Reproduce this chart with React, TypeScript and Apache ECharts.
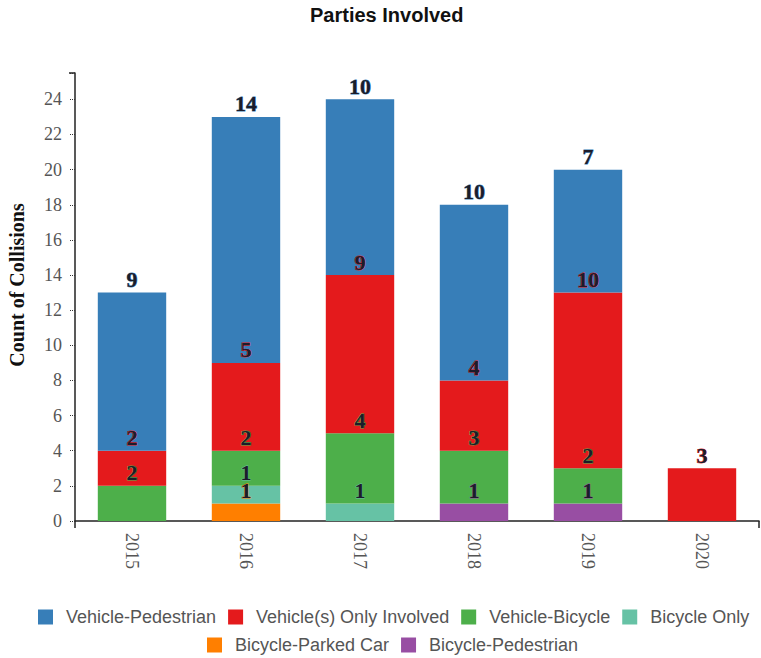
import React, { useEffect, useRef } from "react";
import * as echarts from "echarts";

const years = ["2015", "2016", "2017", "2018", "2019", "2020"];
const vehiclePedestrian = [9, 14, 10, 10, 7, null];
const vehicleOnly = [2, 5, 9, 4, 10, 3];
const vehicleBicycle = [2, 2, 4, 3, 2, null];
const bicycleOnly = [null, 1, 1, null, null, null];
const bicycleParkedCar = [null, 1, null, null, null, null];
const bicyclePedestrian = [null, null, null, 1, 1, null];
const yTicks = [0, 2, 4, 6, 8, 10, 12, 14, 16, 18, 20, 22, 24];

const seriesDefs = [
  { name: "Bicycle-Pedestrian", data: bicyclePedestrian, color: "#984ea3" },
  { name: "Bicycle-Parked Car", data: bicycleParkedCar, color: "#ff7f00" },
  { name: "Bicycle Only", data: bicycleOnly, color: "#66c2a5" },
  { name: "Vehicle-Bicycle", data: vehicleBicycle, color: "#4daf4a" },
  { name: "Vehicle(s) Only Involved", data: vehicleOnly, color: "#e41a1c" },
  { name: "Vehicle-Pedestrian", data: vehiclePedestrian, color: "#377eb8" },
];

const legendRow1 = ["Vehicle-Pedestrian", "Vehicle(s) Only Involved", "Vehicle-Bicycle", "Bicycle Only"];
const legendRow2 = ["Bicycle-Parked Car", "Bicycle-Pedestrian"];

export default function App() {
  const ref = useRef<HTMLDivElement>(null);
  useEffect(() => {
    if (!ref.current) return;
    const chart = echarts.init(ref.current, undefined, { renderer: "svg" });
    const legendText = {
      fontFamily: "'Liberation Sans', Arial, sans-serif",
      fontSize: 18,
      color: "#555",
      padding: [0, 0, 0, 8],
    };
    chart.setOption({
      animation: false,
      backgroundColor: "#fff",
      title: {
        text: "Parties Involved",
        left: 305,
        top: 0,
        textStyle: {
          fontFamily: "'Liberation Sans', Arial, sans-serif",
          fontSize: 20,
          fontWeight: "bold",
          color: "#111",
        },
      },
      legend: [
        {
          data: legendRow1,
          left: 38,
          top: 608,
          padding: 0,
          itemWidth: 15,
          itemHeight: 15,
          itemGap: 12,
          icon: "rect",
          textStyle: legendText,
        },
        {
          data: legendRow2,
          left: 207,
          top: 636,
          padding: 0,
          itemWidth: 15,
          itemHeight: 15,
          itemGap: 12,
          icon: "rect",
          textStyle: legendText,
        },
      ],
      graphic: [
        { type: "line", shape: { x1: 69, y1: 73, x2: 75, y2: 73 }, style: { stroke: "#222", lineWidth: 1.5 } },
        { type: "line", shape: { x1: 759, y1: 521, x2: 759, y2: 528 }, style: { stroke: "#222", lineWidth: 1.5 } },
        { type: "line", shape: { x1: 75, y1: 521, x2: 75, y2: 528 }, style: { stroke: "#222", lineWidth: 1.5 } },
      ],
      grid: {
        left: 75,
        right: 2,
        top: 73,
        bottom: 137,
        containLabel: false,
        outerBoundsMode: "none",
      },
      xAxis: {
        type: "category",
        data: years,
        axisLine: { lineStyle: { color: "#222", width: 1.5 } },
        axisTick: { length: 3, lineStyle: { color: "#333", type: "dotted" } },
        axisLabel: {
          rotate: -90,
          margin: 12,
          fontFamily: "'Liberation Serif', 'Times New Roman', serif",
          fontSize: 18,
          color: "#555",
        },
      },
      yAxis: {
        type: "value",
        min: 0,
        max: 25.5,
        interval: 2,
        name: "Count of Collisions",
        nameLocation: "middle",
        nameRotate: 90,
        nameGap: 48,
        nameTextStyle: {
          fontFamily: "'Liberation Serif', 'Times New Roman', serif",
          fontSize: 20,
          fontWeight: "bold",
          color: "#111",
          padding: [0, 0, 0, 24],
        },
        splitLine: { show: false },
        axisLine: { show: true, lineStyle: { color: "#222", width: 1.5 } },
        axisTick: { show: true, length: 6, lineStyle: { color: "#333", type: "dotted" } },
        axisLabel: {
          margin: 13,
          fontFamily: "'Liberation Serif', 'Times New Roman', serif",
          fontSize: 18,
          color: "#555",
          formatter: (v: number) => (yTicks.includes(v) ? String(v) : ""),
        },
      },
      series: seriesDefs.map((s) => ({
        name: s.name,
        type: "bar",
        stack: "total",
        data: s.data,
        barCategoryGap: "40%",
        itemStyle: { color: s.color },
        label: {
          show: true,
          position: "top",
          distance: 2,
          fontFamily: "'Liberation Serif', 'Times New Roman', serif",
          fontSize: 22,
          fontWeight: "bold",
          color: "#1c1c2a",
          textBorderColor: s.color,
          textBorderWidth: 0.8,
          formatter: (p: any) => (p.value ? String(p.value) : ""),
        },
      })),
    });
    return () => chart.dispose();
  }, []);
  return <div ref={ref} style={{ width: 761, height: 658, position: "absolute", left: 0, top: 0 }} />;
}
